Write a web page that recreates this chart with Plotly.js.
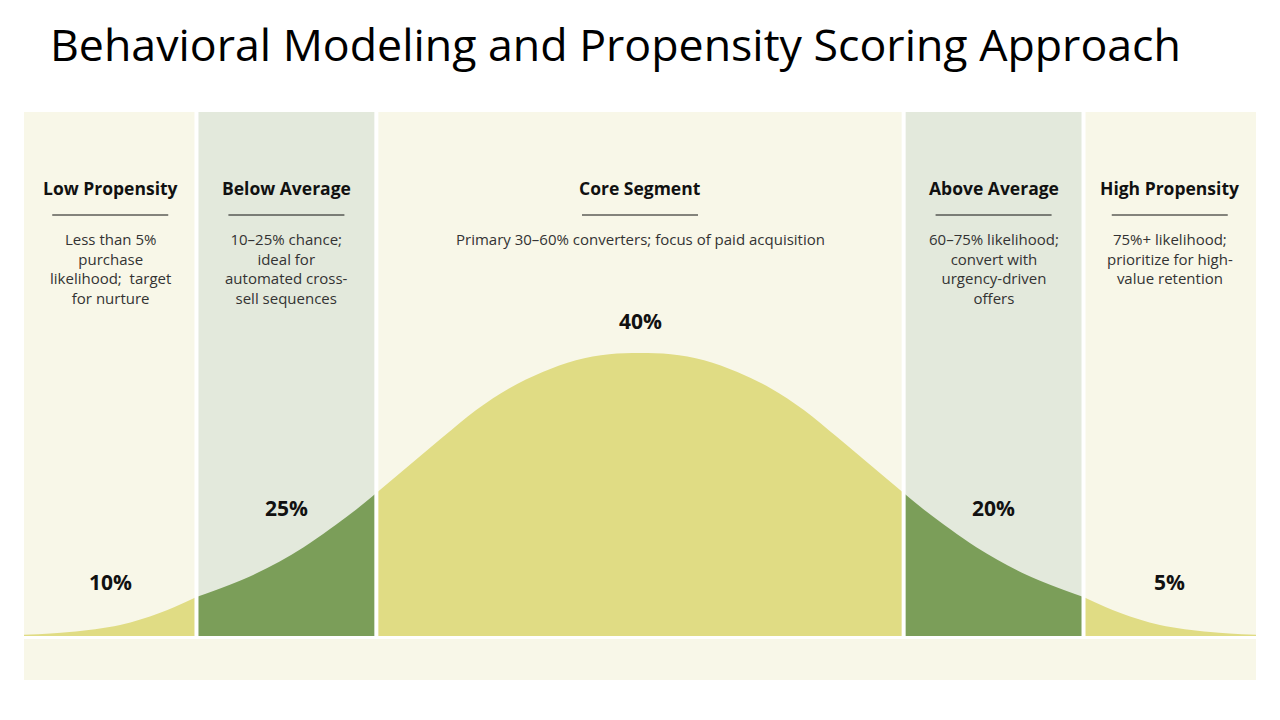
<!DOCTYPE html>
<html>
<head>
<meta charset="utf-8">
<script src="https://cdn.plot.ly/plotly-3.0.1.min.js"></script>
<style>
  html, body { margin: 0; padding: 0; background: #ffffff; }
  #chart { width: 1280px; height: 720px; }
</style>
</head>
<body>
<div id="chart"></div>
<script>
// Propensity segments along the score axis (0–100)
const segNames = ["Low Propensity", "Below Average", "Core Segment", "Above Average", "High Propensity"];
const segShares = [10, 25, 40, 20, 5];
const segDesc = [
  "Less than 5%<br>purchase<br>likelihood;  target<br>for nurture",
  "10–25% chance;<br>ideal for<br>automated cross-<br>sell sequences",
  "Primary 30–60% converters; focus of paid acquisition",
  "60–75% likelihood;<br>convert with<br>urgency-driven<br>offers",
  "75%+ likelihood;<br>prioritize for high-<br>value retention"
];
const segBounds = [0, 14, 28.6, 71.4, 86, 100];

// Relative density of customers along the score axis (peak = 100)
const curveX = [0, 3.7, 7.8, 11.0, 14.0, 18.6, 22.7, 26.7, 28.6, 31.3, 34.0, 36.7, 39.4, 42.1, 44.8, 47.5, 50,
                52.5, 55.2, 57.9, 60.6, 63.3, 66.0, 68.7, 71.4, 73.3, 77.3, 81.4, 86.0, 89.0, 92.2, 96.3, 100];
const curveY = [0.4, 1.4, 3.9, 8.1, 13.8, 21.6, 31.4, 43.8, 50.5, 60.4, 70.3, 79.9, 87.6, 93.3, 97.5, 99.6, 100,
                99.6, 97.5, 93.3, 87.6, 79.9, 70.3, 60.4, 50.5, 43.8, 31.4, 21.6, 13.8, 8.1, 3.9, 1.4, 0.4];

// ---- styling ----
const FONT = "'Open Sans', Lato, sans-serif";
const CREAM = "#f8f7e8";
const SAGE = "#e3e9dc";
const fillColors = ["#e0dc84", "#7b9e59", "#e0dc84", "#7b9e59", "#e0dc84"];
const bandColors = [CREAM, SAGE, CREAM, SAGE, CREAM];
const W = 1280, H = 720;
const M = { l: 24, r: 24, t: 112, b: 40 };
const plotH = H - M.t - M.b;
const yRange = [-15.55, 185.2];
// pixel row -> paper fraction
const py = p => (H - M.b - p) / plotH;
// vertical pixel rows for the text blocks
const headerRow = 188, ruleRow = 215, descRow = 227;
const shareRows = [582, 508, 321, 508, 582];

// filled area for each segment, split at the segment bounds
const traces = segNames.map((name, i) => {
  const lo = segBounds[i], hi = segBounds[i + 1];
  const xs = [], ys = [];
  curveX.forEach((x, k) => {
    if (x >= lo - 1e-9 && x <= hi + 1e-9) { xs.push(x); ys.push(curveY[k]); }
  });
  return {
    type: "scatter", mode: "lines", x: xs, y: ys, name: name,
    fill: "tozeroy", fillcolor: fillColors[i],
    line: { width: 0, shape: "spline", smoothing: 1, color: fillColors[i] },
    hoverinfo: "skip", showlegend: false
  };
});

const shapes = [];
// segment background bands
segNames.forEach((n, i) => {
  shapes.push({
    type: "rect", layer: "below", xref: "x", yref: "paper",
    x0: segBounds[i], x1: segBounds[i + 1], y0: py(637), y1: 1,
    fillcolor: bandColors[i], line: { width: 0 }
  });
});
// white separators between segments
segBounds.slice(1, -1).forEach(b => {
  shapes.push({
    type: "line", layer: "above", xref: "x", yref: "paper",
    x0: b, x1: b, y0: py(637), y1: 1,
    line: { color: "#ffffff", width: 4 }
  });
});
// white line above the base strip
shapes.push({
  type: "line", layer: "above", xref: "paper", yref: "paper",
  x0: 0, x1: 1, y0: py(637.5), y1: py(637.5),
  line: { color: "#ffffff", width: 3 }
});
// short rules under segment headers
segNames.forEach((n, i) => {
  const c = (segBounds[i] + segBounds[i + 1]) / 2;
  shapes.push({
    type: "line", layer: "above", xref: "x", yref: "paper",
    xsizemode: "pixel", xanchor: c, x0: -58, x1: 58,
    y0: py(ruleRow), y1: py(ruleRow),
    line: { color: "#111111", width: 1 }
  });
});

const annotations = [];
segNames.forEach((n, i) => {
  const c = (segBounds[i] + segBounds[i + 1]) / 2;
  annotations.push({
    x: c, xref: "x", y: py(headerRow), yref: "paper", yanchor: "middle",
    text: "<b>" + n + "</b>", showarrow: false,
    font: { family: FONT, size: 17.5, color: "#111111" }
  });
  annotations.push({
    x: c, xref: "x", y: py(descRow), yref: "paper", yanchor: "top",
    text: segDesc[i], showarrow: false, align: "center",
    font: { family: FONT, size: 15, color: "#333333" }
  });
  annotations.push({
    x: c, xref: "x", y: py(shareRows[i]), yref: "paper", yanchor: "middle",
    text: "<b>" + segShares[i] + "%</b>", showarrow: false,
    font: { family: FONT, size: 21, color: "#111111" }
  });
});

const layout = {
  width: W, height: H,
  margin: M,
  paper_bgcolor: "#ffffff",
  plot_bgcolor: CREAM,
  title: {
    text: "Behavioral Modeling and Propensity Scoring Approach",
    xref: "container", x: 50 / W, xanchor: "left",
    yref: "container", y: 1 - 45 / H, yanchor: "middle",
    font: { family: FONT, size: 44.7, color: "#000000" }
  },
  xaxis: { range: [0, 100], visible: false, fixedrange: true },
  yaxis: { range: yRange, visible: false, fixedrange: true },
  shapes: shapes,
  annotations: annotations,
  showlegend: false
};

Plotly.newPlot("chart", traces, layout, { staticPlot: true, displayModeBar: false });
</script>
</body>
</html>
